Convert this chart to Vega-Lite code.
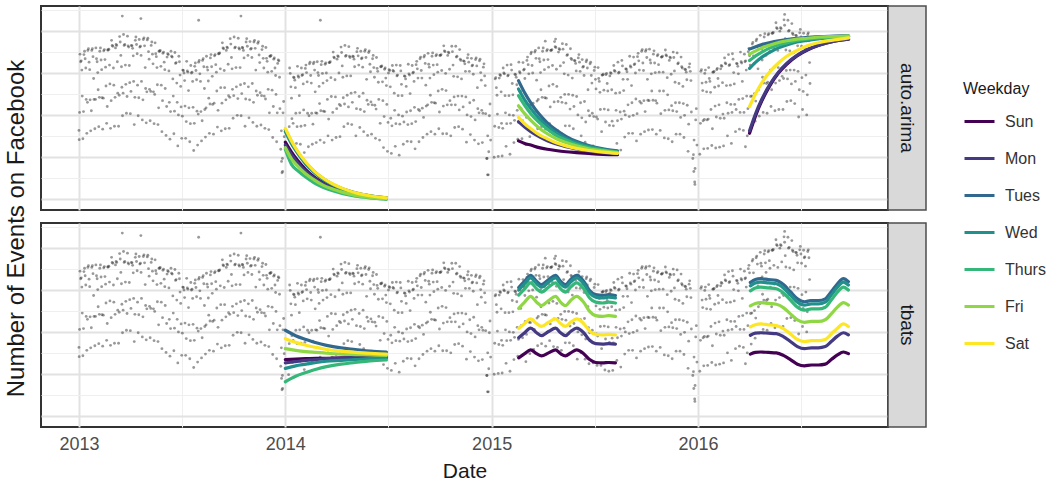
{
  "$schema": "https://vega.github.io/schema/vega-lite/v6.json",
  "background": "white",
  "padding": {"left": 4, "top": 5, "right": 0, "bottom": 0},
  "config": {
    "font": "Liberation Sans",
    "view": {"stroke": null},
    "axis": {"labelFont": "Liberation Sans", "titleFont": "Liberation Sans"}
  },
  "title": {"text": "Number of Events on Facebook", "orient": "left", "anchor": "middle", "fontSize": 24, "fontWeight": "normal", "color": "#1a1a1a", "offset": 11, "dx": 15},
  "bounds": "flush",
  "columns": 2,
  "spacing": {"row": 13, "column": 0},
  "resolve": {"scale": {"color": "shared"}, "legend": {"color": "shared"}},
  "datasets": {
    "obs": [
      {"t":2013.000,"v":163},{"t":2013.003,"v":206},{"t":2013.005,"v":345},{"t":2013.008,"v":327},{"t":2013.011,"v":329},{"t":2013.014,"v":307},{"t":2013.016,"v":245},
      {"t":2013.038,"v":156},{"t":2013.041,"v":230},{"t":2013.043,"v":354},{"t":2013.046,"v":358},{"t":2013.049,"v":326},{"t":2013.052,"v":308},{"t":2013.054,"v":236},
      {"t":2013.077,"v":167},{"t":2013.080,"v":237},{"t":2013.082,"v":360},{"t":2013.085,"v":334},{"t":2013.088,"v":327},{"t":2013.091,"v":301},{"t":2013.093,"v":260},
      {"t":2013.115,"v":166},{"t":2013.118,"v":240},{"t":2013.120,"v":353},{"t":2013.123,"v":356},{"t":2013.126,"v":332},{"t":2013.129,"v":314},{"t":2013.131,"v":269},
      {"t":2013.153,"v":168},{"t":2013.156,"v":234},{"t":2013.158,"v":378},{"t":2013.161,"v":366},{"t":2013.164,"v":364},{"t":2013.167,"v":312},{"t":2013.169,"v":271},
      {"t":2013.192,"v":173},{"t":2013.195,"v":247},{"t":2013.197,"v":387},{"t":2013.200,"v":374},{"t":2013.203,"v":342},{"t":2013.206,"v":315},{"t":2013.208,"v":266},
      {"t":2013.230,"v":204},{"t":2013.233,"v":244},{"t":2013.235,"v":388},{"t":2013.238,"v":365},{"t":2013.241,"v":362},{"t":2013.244,"v":318},{"t":2013.246,"v":277},
      {"t":2013.268,"v":177},{"t":2013.271,"v":242},{"t":2013.273,"v":378},{"t":2013.276,"v":386},{"t":2013.279,"v":368},{"t":2013.282,"v":346},{"t":2013.284,"v":271},
      {"t":2013.307,"v":188},{"t":2013.310,"v":236},{"t":2013.312,"v":380},{"t":2013.315,"v":384},{"t":2013.318,"v":365},{"t":2013.321,"v":313},{"t":2013.323,"v":263},
      {"t":2013.345,"v":186},{"t":2013.348,"v":256},{"t":2013.350,"v":366},{"t":2013.353,"v":374},{"t":2013.356,"v":345},{"t":2013.359,"v":322},{"t":2013.361,"v":255},
      {"t":2013.383,"v":177},{"t":2013.386,"v":217},{"t":2013.388,"v":352},{"t":2013.391,"v":352},{"t":2013.394,"v":354},{"t":2013.397,"v":316},{"t":2013.399,"v":271},
      {"t":2013.422,"v":151},{"t":2013.425,"v":220},{"t":2013.427,"v":338},{"t":2013.430,"v":346},{"t":2013.433,"v":344},{"t":2013.436,"v":305},{"t":2013.438,"v":230},
      {"t":2013.460,"v":155},{"t":2013.463,"v":209},{"t":2013.465,"v":349},{"t":2013.468,"v":323},{"t":2013.471,"v":325},{"t":2013.474,"v":276},{"t":2013.476,"v":230},
      {"t":2013.498,"v":144},{"t":2013.501,"v":197},{"t":2013.503,"v":307},{"t":2013.506,"v":306},{"t":2013.509,"v":300},{"t":2013.512,"v":282},{"t":2013.514,"v":221},
      {"t":2013.537,"v":136},{"t":2013.540,"v":179},{"t":2013.542,"v":318},{"t":2013.545,"v":300},{"t":2013.548,"v":302},{"t":2013.551,"v":280},{"t":2013.553,"v":218},
      {"t":2013.575,"v":128},{"t":2013.578,"v":202},{"t":2013.580,"v":326},{"t":2013.583,"v":330},{"t":2013.586,"v":298},{"t":2013.589,"v":280},{"t":2013.591,"v":208},
      {"t":2013.613,"v":147},{"t":2013.616,"v":217},{"t":2013.618,"v":340},{"t":2013.621,"v":314},{"t":2013.624,"v":307},{"t":2013.627,"v":281},{"t":2013.629,"v":240},
      {"t":2013.652,"v":154},{"t":2013.655,"v":228},{"t":2013.657,"v":341},{"t":2013.660,"v":344},{"t":2013.663,"v":320},{"t":2013.666,"v":302},{"t":2013.668,"v":257},
      {"t":2013.690,"v":162},{"t":2013.693,"v":228},{"t":2013.695,"v":372},{"t":2013.698,"v":360},{"t":2013.701,"v":358},{"t":2013.704,"v":306},{"t":2013.706,"v":265},
      {"t":2013.728,"v":168},{"t":2013.731,"v":242},{"t":2013.733,"v":382},{"t":2013.736,"v":369},{"t":2013.739,"v":337},{"t":2013.742,"v":310},{"t":2013.744,"v":261},
      {"t":2013.767,"v":199},{"t":2013.770,"v":239},{"t":2013.772,"v":383},{"t":2013.775,"v":360},{"t":2013.778,"v":357},{"t":2013.781,"v":313},{"t":2013.783,"v":272},
      {"t":2013.805,"v":173},{"t":2013.808,"v":238},{"t":2013.810,"v":374},{"t":2013.813,"v":382},{"t":2013.816,"v":364},{"t":2013.819,"v":342},{"t":2013.821,"v":267},
      {"t":2013.843,"v":182},{"t":2013.846,"v":230},{"t":2013.848,"v":374},{"t":2013.851,"v":378},{"t":2013.854,"v":359},{"t":2013.857,"v":307},{"t":2013.859,"v":257},
      {"t":2013.882,"v":176},{"t":2013.885,"v":246},{"t":2013.887,"v":356},{"t":2013.890,"v":364},{"t":2013.893,"v":335},{"t":2013.896,"v":312},{"t":2013.898,"v":245},
      {"t":2013.920,"v":165},{"t":2013.923,"v":205},{"t":2013.925,"v":340},{"t":2013.928,"v":340},{"t":2013.931,"v":342},{"t":2013.934,"v":304},{"t":2013.936,"v":259},
      {"t":2013.958,"v":136},{"t":2013.961,"v":205},{"t":2013.963,"v":323},{"t":2013.966,"v":331},{"t":2013.969,"v":329},{"t":2013.972,"v":290},{"t":2013.974,"v":215},
      {"t":2013.978,"v":118},{"t":2013.981,"v":162},{"t":2013.984,"v":62},{"t":2013.986,"v":96},{"t":2013.989,"v":205},{"t":2013.992,"v":232},{"t":2013.995,"v":148},
      {"t":2014.035,"v":127},{"t":2014.038,"v":180},{"t":2014.040,"v":290},{"t":2014.043,"v":289},{"t":2014.046,"v":283},{"t":2014.049,"v":265},{"t":2014.051,"v":204},
      {"t":2014.073,"v":130},{"t":2014.076,"v":173},{"t":2014.078,"v":312},{"t":2014.081,"v":294},{"t":2014.084,"v":296},{"t":2014.087,"v":274},{"t":2014.089,"v":212},
      {"t":2014.112,"v":124},{"t":2014.115,"v":198},{"t":2014.117,"v":322},{"t":2014.120,"v":326},{"t":2014.123,"v":294},{"t":2014.126,"v":276},{"t":2014.128,"v":204},
      {"t":2014.150,"v":134},{"t":2014.153,"v":204},{"t":2014.155,"v":327},{"t":2014.158,"v":301},{"t":2014.161,"v":294},{"t":2014.164,"v":268},{"t":2014.166,"v":227},
      {"t":2014.188,"v":134},{"t":2014.191,"v":208},{"t":2014.193,"v":321},{"t":2014.196,"v":324},{"t":2014.199,"v":300},{"t":2014.202,"v":282},{"t":2014.204,"v":237},
      {"t":2014.227,"v":140},{"t":2014.230,"v":206},{"t":2014.232,"v":350},{"t":2014.235,"v":338},{"t":2014.238,"v":336},{"t":2014.241,"v":284},{"t":2014.243,"v":243},
      {"t":2014.265,"v":148},{"t":2014.268,"v":222},{"t":2014.270,"v":362},{"t":2014.273,"v":349},{"t":2014.276,"v":317},{"t":2014.279,"v":290},{"t":2014.281,"v":241},
      {"t":2014.303,"v":179},{"t":2014.306,"v":219},{"t":2014.308,"v":363},{"t":2014.311,"v":340},{"t":2014.314,"v":337},{"t":2014.317,"v":293},{"t":2014.319,"v":252},
      {"t":2014.342,"v":150},{"t":2014.345,"v":215},{"t":2014.347,"v":351},{"t":2014.350,"v":359},{"t":2014.353,"v":341},{"t":2014.356,"v":319},{"t":2014.358,"v":244},
      {"t":2014.380,"v":160},{"t":2014.383,"v":208},{"t":2014.385,"v":352},{"t":2014.388,"v":356},{"t":2014.391,"v":337},{"t":2014.394,"v":285},{"t":2014.396,"v":235},
      {"t":2014.418,"v":154},{"t":2014.421,"v":224},{"t":2014.423,"v":334},{"t":2014.426,"v":342},{"t":2014.429,"v":313},{"t":2014.432,"v":290},{"t":2014.434,"v":223},
      {"t":2014.457,"v":140},{"t":2014.460,"v":180},{"t":2014.462,"v":315},{"t":2014.465,"v":315},{"t":2014.468,"v":317},{"t":2014.471,"v":279},{"t":2014.473,"v":234},
      {"t":2014.495,"v":113},{"t":2014.498,"v":182},{"t":2014.500,"v":300},{"t":2014.503,"v":308},{"t":2014.506,"v":306},{"t":2014.509,"v":267},{"t":2014.511,"v":192},
      {"t":2014.533,"v":125},{"t":2014.536,"v":179},{"t":2014.538,"v":319},{"t":2014.541,"v":293},{"t":2014.544,"v":295},{"t":2014.547,"v":246},{"t":2014.549,"v":200},
      {"t":2014.572,"v":130},{"t":2014.575,"v":183},{"t":2014.577,"v":293},{"t":2014.580,"v":292},{"t":2014.583,"v":286},{"t":2014.586,"v":268},{"t":2014.588,"v":207},
      {"t":2014.610,"v":136},{"t":2014.613,"v":179},{"t":2014.615,"v":318},{"t":2014.618,"v":300},{"t":2014.621,"v":302},{"t":2014.624,"v":280},{"t":2014.626,"v":218},
      {"t":2014.648,"v":136},{"t":2014.651,"v":210},{"t":2014.653,"v":334},{"t":2014.656,"v":338},{"t":2014.659,"v":306},{"t":2014.662,"v":288},{"t":2014.664,"v":216},
      {"t":2014.687,"v":154},{"t":2014.690,"v":224},{"t":2014.692,"v":347},{"t":2014.695,"v":321},{"t":2014.698,"v":314},{"t":2014.701,"v":288},{"t":2014.703,"v":247},
      {"t":2014.725,"v":154},{"t":2014.728,"v":228},{"t":2014.730,"v":341},{"t":2014.733,"v":344},{"t":2014.736,"v":320},{"t":2014.739,"v":302},{"t":2014.741,"v":257},
      {"t":2014.763,"v":155},{"t":2014.766,"v":221},{"t":2014.768,"v":365},{"t":2014.771,"v":353},{"t":2014.774,"v":351},{"t":2014.777,"v":299},{"t":2014.779,"v":258},
      {"t":2014.802,"v":150},{"t":2014.805,"v":224},{"t":2014.807,"v":364},{"t":2014.810,"v":351},{"t":2014.813,"v":319},{"t":2014.816,"v":292},{"t":2014.818,"v":243},
      {"t":2014.840,"v":172},{"t":2014.843,"v":212},{"t":2014.845,"v":356},{"t":2014.848,"v":333},{"t":2014.851,"v":330},{"t":2014.854,"v":286},{"t":2014.856,"v":245},
      {"t":2014.878,"v":135},{"t":2014.881,"v":200},{"t":2014.883,"v":336},{"t":2014.886,"v":344},{"t":2014.889,"v":326},{"t":2014.892,"v":304},{"t":2014.894,"v":229},
      {"t":2014.917,"v":140},{"t":2014.920,"v":188},{"t":2014.922,"v":332},{"t":2014.925,"v":336},{"t":2014.928,"v":317},{"t":2014.931,"v":265},{"t":2014.933,"v":215},
      {"t":2014.955,"v":134},{"t":2014.958,"v":204},{"t":2014.960,"v":314},{"t":2014.963,"v":322},{"t":2014.966,"v":293},{"t":2014.969,"v":270},{"t":2014.971,"v":203},
      {"t":2014.978,"v":96},{"t":2014.981,"v":150},{"t":2014.984,"v":57},{"t":2014.986,"v":112},{"t":2014.989,"v":198},{"t":2014.992,"v":226},{"t":2014.995,"v":140},
      {"t":2015.032,"v":101},{"t":2015.035,"v":170},{"t":2015.037,"v":288},{"t":2015.040,"v":296},{"t":2015.043,"v":294},{"t":2015.046,"v":255},{"t":2015.048,"v":180},
      {"t":2015.070,"v":125},{"t":2015.073,"v":179},{"t":2015.075,"v":319},{"t":2015.078,"v":293},{"t":2015.081,"v":295},{"t":2015.084,"v":246},{"t":2015.086,"v":200},
      {"t":2015.108,"v":134},{"t":2015.111,"v":187},{"t":2015.113,"v":297},{"t":2015.116,"v":296},{"t":2015.119,"v":290},{"t":2015.122,"v":272},{"t":2015.124,"v":211},
      {"t":2015.147,"v":143},{"t":2015.150,"v":186},{"t":2015.152,"v":325},{"t":2015.155,"v":307},{"t":2015.158,"v":309},{"t":2015.161,"v":287},{"t":2015.163,"v":225},
      {"t":2015.185,"v":148},{"t":2015.188,"v":222},{"t":2015.190,"v":346},{"t":2015.193,"v":350},{"t":2015.196,"v":318},{"t":2015.199,"v":300},{"t":2015.201,"v":228},
      {"t":2015.223,"v":167},{"t":2015.226,"v":237},{"t":2015.228,"v":360},{"t":2015.231,"v":334},{"t":2015.234,"v":327},{"t":2015.237,"v":301},{"t":2015.239,"v":260},
      {"t":2015.262,"v":166},{"t":2015.265,"v":240},{"t":2015.267,"v":353},{"t":2015.270,"v":356},{"t":2015.273,"v":332},{"t":2015.276,"v":314},{"t":2015.278,"v":269},
      {"t":2015.300,"v":165},{"t":2015.303,"v":231},{"t":2015.305,"v":375},{"t":2015.308,"v":363},{"t":2015.311,"v":361},{"t":2015.314,"v":309},{"t":2015.316,"v":268},
      {"t":2015.338,"v":156},{"t":2015.341,"v":230},{"t":2015.343,"v":370},{"t":2015.346,"v":357},{"t":2015.349,"v":325},{"t":2015.352,"v":298},{"t":2015.354,"v":249},
      {"t":2015.377,"v":174},{"t":2015.380,"v":214},{"t":2015.382,"v":358},{"t":2015.385,"v":335},{"t":2015.388,"v":332},{"t":2015.391,"v":288},{"t":2015.393,"v":247},
      {"t":2015.415,"v":135},{"t":2015.418,"v":200},{"t":2015.420,"v":336},{"t":2015.423,"v":344},{"t":2015.426,"v":326},{"t":2015.429,"v":304},{"t":2015.431,"v":229},
      {"t":2015.453,"v":135},{"t":2015.456,"v":183},{"t":2015.458,"v":327},{"t":2015.461,"v":331},{"t":2015.464,"v":312},{"t":2015.467,"v":260},{"t":2015.469,"v":210},
      {"t":2015.492,"v":126},{"t":2015.495,"v":196},{"t":2015.497,"v":306},{"t":2015.500,"v":314},{"t":2015.503,"v":285},{"t":2015.506,"v":262},{"t":2015.508,"v":195},
      {"t":2015.530,"v":120},{"t":2015.533,"v":160},{"t":2015.535,"v":295},{"t":2015.538,"v":295},{"t":2015.541,"v":297},{"t":2015.544,"v":259},{"t":2015.546,"v":214},
      {"t":2015.568,"v":106},{"t":2015.571,"v":175},{"t":2015.573,"v":293},{"t":2015.576,"v":301},{"t":2015.579,"v":299},{"t":2015.582,"v":260},{"t":2015.584,"v":185},
      {"t":2015.607,"v":132},{"t":2015.610,"v":186},{"t":2015.612,"v":326},{"t":2015.615,"v":300},{"t":2015.618,"v":302},{"t":2015.621,"v":253},{"t":2015.623,"v":207},
      {"t":2015.645,"v":147},{"t":2015.648,"v":200},{"t":2015.650,"v":310},{"t":2015.653,"v":309},{"t":2015.656,"v":303},{"t":2015.659,"v":285},{"t":2015.661,"v":224},
      {"t":2015.683,"v":156},{"t":2015.686,"v":199},{"t":2015.688,"v":338},{"t":2015.691,"v":320},{"t":2015.694,"v":322},{"t":2015.697,"v":300},{"t":2015.699,"v":238},
      {"t":2015.722,"v":154},{"t":2015.725,"v":228},{"t":2015.727,"v":352},{"t":2015.730,"v":356},{"t":2015.733,"v":324},{"t":2015.736,"v":306},{"t":2015.738,"v":234},
      {"t":2015.760,"v":164},{"t":2015.763,"v":234},{"t":2015.765,"v":357},{"t":2015.768,"v":331},{"t":2015.771,"v":324},{"t":2015.774,"v":298},{"t":2015.776,"v":257},
      {"t":2015.798,"v":154},{"t":2015.801,"v":228},{"t":2015.803,"v":341},{"t":2015.806,"v":344},{"t":2015.809,"v":320},{"t":2015.812,"v":302},{"t":2015.814,"v":257},
      {"t":2015.837,"v":145},{"t":2015.840,"v":211},{"t":2015.842,"v":355},{"t":2015.845,"v":343},{"t":2015.848,"v":341},{"t":2015.851,"v":289},{"t":2015.853,"v":248},
      {"t":2015.875,"v":136},{"t":2015.878,"v":210},{"t":2015.880,"v":350},{"t":2015.883,"v":337},{"t":2015.886,"v":305},{"t":2015.889,"v":278},{"t":2015.891,"v":229},
      {"t":2015.913,"v":154},{"t":2015.916,"v":194},{"t":2015.918,"v":338},{"t":2015.921,"v":315},{"t":2015.924,"v":312},{"t":2015.927,"v":268},{"t":2015.929,"v":227},
      {"t":2015.952,"v":113},{"t":2015.955,"v":178},{"t":2015.957,"v":314},{"t":2015.960,"v":322},{"t":2015.963,"v":304},{"t":2015.966,"v":282},{"t":2015.968,"v":207},
      {"t":2015.978,"v":105},{"t":2015.981,"v":140},{"t":2015.984,"v":40},{"t":2015.986,"v":72},{"t":2015.989,"v":188},{"t":2015.992,"v":215},{"t":2015.995,"v":128},
      {"t":2016.028,"v":119},{"t":2016.031,"v":189},{"t":2016.033,"v":299},{"t":2016.036,"v":307},{"t":2016.039,"v":278},{"t":2016.042,"v":255},{"t":2016.044,"v":188},
      {"t":2016.067,"v":127},{"t":2016.070,"v":167},{"t":2016.072,"v":302},{"t":2016.075,"v":302},{"t":2016.078,"v":304},{"t":2016.081,"v":266},{"t":2016.083,"v":221},
      {"t":2016.105,"v":123},{"t":2016.108,"v":192},{"t":2016.110,"v":310},{"t":2016.113,"v":318},{"t":2016.116,"v":316},{"t":2016.119,"v":277},{"t":2016.121,"v":202},
      {"t":2016.143,"v":150},{"t":2016.146,"v":204},{"t":2016.148,"v":344},{"t":2016.151,"v":318},{"t":2016.154,"v":320},{"t":2016.157,"v":271},{"t":2016.159,"v":225},
      {"t":2016.182,"v":160},{"t":2016.185,"v":213},{"t":2016.187,"v":323},{"t":2016.190,"v":322},{"t":2016.193,"v":316},{"t":2016.196,"v":298},{"t":2016.198,"v":237},
      {"t":2016.220,"v":163},{"t":2016.223,"v":206},{"t":2016.225,"v":345},{"t":2016.228,"v":327},{"t":2016.231,"v":329},{"t":2016.234,"v":307},{"t":2016.236,"v":245},
      {"t":2016.258,"v":171},{"t":2016.261,"v":245},{"t":2016.263,"v":369},{"t":2016.266,"v":373},{"t":2016.269,"v":341},{"t":2016.272,"v":323},{"t":2016.274,"v":251},
      {"t":2016.297,"v":197},{"t":2016.300,"v":267},{"t":2016.302,"v":390},{"t":2016.305,"v":364},{"t":2016.308,"v":357},{"t":2016.311,"v":331},{"t":2016.313,"v":290},
      {"t":2016.335,"v":204},{"t":2016.338,"v":278},{"t":2016.340,"v":391},{"t":2016.343,"v":394},{"t":2016.346,"v":370},{"t":2016.349,"v":352},{"t":2016.351,"v":307},
      {"t":2016.373,"v":210},{"t":2016.376,"v":276},{"t":2016.378,"v":420},{"t":2016.381,"v":408},{"t":2016.384,"v":406},{"t":2016.387,"v":354},{"t":2016.389,"v":313},
      {"t":2016.412,"v":213},{"t":2016.415,"v":287},{"t":2016.417,"v":427},{"t":2016.420,"v":414},{"t":2016.423,"v":382},{"t":2016.426,"v":355},{"t":2016.428,"v":306},
      {"t":2016.450,"v":234},{"t":2016.453,"v":274},{"t":2016.455,"v":418},{"t":2016.458,"v":395},{"t":2016.461,"v":392},{"t":2016.464,"v":348},{"t":2016.466,"v":307},
      {"t":2016.488,"v":195},{"t":2016.491,"v":260},{"t":2016.493,"v":396},{"t":2016.496,"v":404},{"t":2016.499,"v":386},{"t":2016.502,"v":364},{"t":2016.504,"v":289},
      {"t":2016.527,"v":200},{"t":2016.530,"v":248},{"t":2016.532,"v":392},{"t":2016.535,"v":396},{"t":2016.538,"v":377},{"t":2016.541,"v":325},{"t":2016.543,"v":275},
      {"t":2013.019,"v":143},{"t":2013.022,"v":208},{"t":2013.024,"v":344},{"t":2013.027,"v":352},{"t":2013.030,"v":334},{"t":2013.033,"v":312},{"t":2013.035,"v":237},
      {"t":2013.057,"v":162},{"t":2013.060,"v":210},{"t":2013.062,"v":354},{"t":2013.065,"v":358},{"t":2013.068,"v":339},{"t":2013.071,"v":287},{"t":2013.073,"v":237},
      {"t":2013.096,"v":172},{"t":2013.099,"v":242},{"t":2013.101,"v":352},{"t":2013.104,"v":360},{"t":2013.107,"v":331},{"t":2013.110,"v":308},{"t":2013.112,"v":241},
      {"t":2013.134,"v":180},{"t":2013.137,"v":220},{"t":2013.139,"v":355},{"t":2013.142,"v":355},{"t":2013.145,"v":357},{"t":2013.148,"v":319},{"t":2013.150,"v":274},
      {"t":2013.172,"v":173},{"t":2013.175,"v":242},{"t":2013.177,"v":360},{"t":2013.180,"v":368},{"t":2013.183,"v":366},{"t":2013.186,"v":327},{"t":2013.188,"v":252},
      {"t":2013.211,"v":198},{"t":2013.214,"v":252},{"t":2013.216,"v":392},{"t":2013.219,"v":366},{"t":2013.222,"v":368},{"t":2013.225,"v":319},{"t":2013.227,"v":273},
      {"t":2013.249,"v":203},{"t":2013.252,"v":256},{"t":2013.254,"v":366},{"t":2013.257,"v":365},{"t":2013.260,"v":359},{"t":2013.263,"v":341},{"t":2013.265,"v":280},
      {"t":2013.287,"v":198},{"t":2013.290,"v":241},{"t":2013.292,"v":380},{"t":2013.295,"v":362},{"t":2013.298,"v":364},{"t":2013.301,"v":342},{"t":2013.303,"v":280},
      {"t":2013.326,"v":181},{"t":2013.329,"v":255},{"t":2013.331,"v":379},{"t":2013.334,"v":383},{"t":2013.337,"v":351},{"t":2013.340,"v":333},{"t":2013.342,"v":261},
      {"t":2013.364,"v":179},{"t":2013.367,"v":249},{"t":2013.369,"v":372},{"t":2013.372,"v":346},{"t":2013.375,"v":339},{"t":2013.378,"v":313},{"t":2013.380,"v":272},
      {"t":2013.402,"v":160},{"t":2013.405,"v":234},{"t":2013.407,"v":347},{"t":2013.410,"v":350},{"t":2013.413,"v":326},{"t":2013.416,"v":308},{"t":2013.418,"v":263},
      {"t":2013.441,"v":142},{"t":2013.444,"v":208},{"t":2013.446,"v":352},{"t":2013.449,"v":340},{"t":2013.452,"v":338},{"t":2013.455,"v":286},{"t":2013.457,"v":245},
      {"t":2013.479,"v":126},{"t":2013.482,"v":200},{"t":2013.484,"v":340},{"t":2013.487,"v":327},{"t":2013.490,"v":295},{"t":2013.493,"v":268},{"t":2013.495,"v":219},
      {"t":2013.517,"v":144},{"t":2013.520,"v":184},{"t":2013.522,"v":328},{"t":2013.525,"v":305},{"t":2013.528,"v":302},{"t":2013.531,"v":258},{"t":2013.533,"v":217},
      {"t":2013.556,"v":115},{"t":2013.559,"v":180},{"t":2013.561,"v":316},{"t":2013.564,"v":324},{"t":2013.567,"v":306},{"t":2013.570,"v":284},{"t":2013.572,"v":209},
      {"t":2013.594,"v":138},{"t":2013.597,"v":186},{"t":2013.599,"v":330},{"t":2013.602,"v":334},{"t":2013.605,"v":315},{"t":2013.608,"v":263},{"t":2013.610,"v":213},
      {"t":2013.632,"v":156},{"t":2013.635,"v":226},{"t":2013.637,"v":336},{"t":2013.640,"v":344},{"t":2013.643,"v":315},{"t":2013.646,"v":292},{"t":2013.648,"v":225},
      {"t":2013.671,"v":171},{"t":2013.674,"v":211},{"t":2013.676,"v":346},{"t":2013.679,"v":346},{"t":2013.682,"v":348},{"t":2013.685,"v":310},{"t":2013.687,"v":265},
      {"t":2013.709,"v":167},{"t":2013.712,"v":236},{"t":2013.714,"v":354},{"t":2013.717,"v":362},{"t":2013.720,"v":360},{"t":2013.723,"v":321},{"t":2013.725,"v":246},
      {"t":2013.747,"v":192},{"t":2013.750,"v":246},{"t":2013.752,"v":386},{"t":2013.755,"v":360},{"t":2013.758,"v":362},{"t":2013.761,"v":313},{"t":2013.763,"v":267},
      {"t":2013.786,"v":198},{"t":2013.789,"v":251},{"t":2013.791,"v":361},{"t":2013.794,"v":360},{"t":2013.797,"v":354},{"t":2013.800,"v":336},{"t":2013.802,"v":275},
      {"t":2013.824,"v":193},{"t":2013.827,"v":236},{"t":2013.829,"v":375},{"t":2013.832,"v":357},{"t":2013.835,"v":359},{"t":2013.838,"v":337},{"t":2013.840,"v":275},
      {"t":2013.862,"v":173},{"t":2013.865,"v":247},{"t":2013.867,"v":371},{"t":2013.870,"v":375},{"t":2013.873,"v":343},{"t":2013.876,"v":325},{"t":2013.878,"v":253},
      {"t":2013.901,"v":168},{"t":2013.904,"v":238},{"t":2013.906,"v":361},{"t":2013.909,"v":335},{"t":2013.912,"v":328},{"t":2013.915,"v":302},{"t":2013.917,"v":261},
      {"t":2013.939,"v":146},{"t":2013.942,"v":220},{"t":2013.944,"v":333},{"t":2013.947,"v":336},{"t":2013.950,"v":312},{"t":2013.953,"v":294},{"t":2013.955,"v":249},
      {"t":2014.016,"v":98},{"t":2014.019,"v":172},{"t":2014.021,"v":312},{"t":2014.024,"v":299},{"t":2014.027,"v":267},{"t":2014.030,"v":240},{"t":2014.032,"v":191},
      {"t":2014.054,"v":132},{"t":2014.057,"v":172},{"t":2014.059,"v":316},{"t":2014.062,"v":293},{"t":2014.065,"v":290},{"t":2014.068,"v":246},{"t":2014.070,"v":205},
      {"t":2014.092,"v":110},{"t":2014.095,"v":175},{"t":2014.097,"v":311},{"t":2014.100,"v":319},{"t":2014.103,"v":301},{"t":2014.106,"v":279},{"t":2014.108,"v":204},
      {"t":2014.131,"v":130},{"t":2014.134,"v":178},{"t":2014.136,"v":322},{"t":2014.139,"v":326},{"t":2014.142,"v":307},{"t":2014.145,"v":255},{"t":2014.147,"v":205},
      {"t":2014.169,"v":140},{"t":2014.172,"v":210},{"t":2014.174,"v":320},{"t":2014.177,"v":328},{"t":2014.180,"v":299},{"t":2014.183,"v":276},{"t":2014.185,"v":209},
      {"t":2014.207,"v":150},{"t":2014.210,"v":190},{"t":2014.212,"v":325},{"t":2014.215,"v":325},{"t":2014.218,"v":327},{"t":2014.221,"v":289},{"t":2014.223,"v":244},
      {"t":2014.246,"v":146},{"t":2014.249,"v":215},{"t":2014.251,"v":333},{"t":2014.254,"v":341},{"t":2014.257,"v":339},{"t":2014.260,"v":300},{"t":2014.262,"v":225},
      {"t":2014.284,"v":172},{"t":2014.287,"v":226},{"t":2014.289,"v":366},{"t":2014.292,"v":340},{"t":2014.295,"v":342},{"t":2014.298,"v":293},{"t":2014.300,"v":247},
      {"t":2014.322,"v":177},{"t":2014.325,"v":230},{"t":2014.327,"v":340},{"t":2014.330,"v":339},{"t":2014.333,"v":333},{"t":2014.336,"v":315},{"t":2014.338,"v":254},
      {"t":2014.361,"v":170},{"t":2014.364,"v":213},{"t":2014.366,"v":352},{"t":2014.369,"v":334},{"t":2014.372,"v":336},{"t":2014.375,"v":314},{"t":2014.377,"v":252},
      {"t":2014.399,"v":151},{"t":2014.402,"v":225},{"t":2014.404,"v":349},{"t":2014.407,"v":353},{"t":2014.410,"v":321},{"t":2014.413,"v":303},{"t":2014.415,"v":231},
      {"t":2014.437,"v":144},{"t":2014.440,"v":214},{"t":2014.442,"v":337},{"t":2014.445,"v":311},{"t":2014.448,"v":304},{"t":2014.451,"v":278},{"t":2014.453,"v":237},
      {"t":2014.476,"v":122},{"t":2014.479,"v":196},{"t":2014.481,"v":309},{"t":2014.484,"v":312},{"t":2014.487,"v":288},{"t":2014.490,"v":270},{"t":2014.492,"v":225},
      {"t":2014.514,"v":108},{"t":2014.517,"v":174},{"t":2014.519,"v":318},{"t":2014.522,"v":306},{"t":2014.525,"v":304},{"t":2014.528,"v":252},{"t":2014.530,"v":211},
      {"t":2014.552,"v":104},{"t":2014.555,"v":178},{"t":2014.557,"v":318},{"t":2014.560,"v":305},{"t":2014.563,"v":273},{"t":2014.566,"v":246},{"t":2014.568,"v":197},
      {"t":2014.591,"v":137},{"t":2014.594,"v":177},{"t":2014.596,"v":321},{"t":2014.599,"v":298},{"t":2014.602,"v":295},{"t":2014.605,"v":251},{"t":2014.607,"v":210},
      {"t":2014.629,"v":119},{"t":2014.632,"v":184},{"t":2014.634,"v":320},{"t":2014.637,"v":328},{"t":2014.640,"v":310},{"t":2014.643,"v":288},{"t":2014.645,"v":213},
      {"t":2014.667,"v":146},{"t":2014.670,"v":194},{"t":2014.672,"v":338},{"t":2014.675,"v":342},{"t":2014.678,"v":323},{"t":2014.681,"v":271},{"t":2014.683,"v":221},
      {"t":2014.706,"v":160},{"t":2014.709,"v":230},{"t":2014.711,"v":340},{"t":2014.714,"v":348},{"t":2014.717,"v":319},{"t":2014.720,"v":296},{"t":2014.722,"v":229},
      {"t":2014.744,"v":167},{"t":2014.747,"v":207},{"t":2014.749,"v":342},{"t":2014.752,"v":342},{"t":2014.755,"v":344},{"t":2014.758,"v":306},{"t":2014.760,"v":261},
      {"t":2014.782,"v":155},{"t":2014.785,"v":224},{"t":2014.787,"v":342},{"t":2014.790,"v":350},{"t":2014.793,"v":348},{"t":2014.796,"v":309},{"t":2014.798,"v":234},
      {"t":2014.821,"v":170},{"t":2014.824,"v":224},{"t":2014.826,"v":364},{"t":2014.829,"v":338},{"t":2014.832,"v":340},{"t":2014.835,"v":291},{"t":2014.837,"v":245},
      {"t":2014.859,"v":166},{"t":2014.862,"v":219},{"t":2014.864,"v":329},{"t":2014.867,"v":328},{"t":2014.870,"v":322},{"t":2014.873,"v":304},{"t":2014.875,"v":243},
      {"t":2014.897,"v":153},{"t":2014.900,"v":196},{"t":2014.902,"v":335},{"t":2014.905,"v":317},{"t":2014.908,"v":319},{"t":2014.911,"v":297},{"t":2014.913,"v":235},
      {"t":2014.936,"v":131},{"t":2014.939,"v":205},{"t":2014.941,"v":329},{"t":2014.944,"v":333},{"t":2014.947,"v":301},{"t":2014.950,"v":283},{"t":2014.952,"v":211},
      {"t":2015.012,"v":99},{"t":2015.015,"v":173},{"t":2015.017,"v":286},{"t":2015.020,"v":289},{"t":2015.023,"v":265},{"t":2015.026,"v":247},{"t":2015.028,"v":202},
      {"t":2015.051,"v":102},{"t":2015.054,"v":168},{"t":2015.056,"v":312},{"t":2015.059,"v":300},{"t":2015.062,"v":298},{"t":2015.065,"v":246},{"t":2015.067,"v":205},
      {"t":2015.089,"v":106},{"t":2015.092,"v":180},{"t":2015.094,"v":320},{"t":2015.097,"v":307},{"t":2015.100,"v":275},{"t":2015.103,"v":248},{"t":2015.105,"v":199},
      {"t":2015.127,"v":142},{"t":2015.130,"v":182},{"t":2015.132,"v":326},{"t":2015.135,"v":303},{"t":2015.138,"v":300},{"t":2015.141,"v":256},{"t":2015.143,"v":215},
      {"t":2015.166,"v":129},{"t":2015.169,"v":194},{"t":2015.171,"v":330},{"t":2015.174,"v":338},{"t":2015.177,"v":320},{"t":2015.180,"v":298},{"t":2015.182,"v":223},
      {"t":2015.204,"v":158},{"t":2015.207,"v":206},{"t":2015.209,"v":350},{"t":2015.212,"v":354},{"t":2015.215,"v":335},{"t":2015.218,"v":283},{"t":2015.220,"v":233},
      {"t":2015.242,"v":172},{"t":2015.245,"v":242},{"t":2015.247,"v":352},{"t":2015.250,"v":360},{"t":2015.253,"v":331},{"t":2015.256,"v":308},{"t":2015.258,"v":241},
      {"t":2015.281,"v":179},{"t":2015.284,"v":219},{"t":2015.286,"v":354},{"t":2015.289,"v":354},{"t":2015.292,"v":356},{"t":2015.295,"v":318},{"t":2015.297,"v":273},
      {"t":2015.319,"v":163},{"t":2015.322,"v":232},{"t":2015.324,"v":350},{"t":2015.327,"v":358},{"t":2015.330,"v":356},{"t":2015.333,"v":317},{"t":2015.335,"v":242},
      {"t":2015.357,"v":174},{"t":2015.360,"v":228},{"t":2015.362,"v":368},{"t":2015.365,"v":342},{"t":2015.368,"v":344},{"t":2015.371,"v":295},{"t":2015.373,"v":249},
      {"t":2015.396,"v":167},{"t":2015.399,"v":220},{"t":2015.401,"v":330},{"t":2015.404,"v":329},{"t":2015.407,"v":323},{"t":2015.410,"v":305},{"t":2015.412,"v":244},
      {"t":2015.434,"v":150},{"t":2015.437,"v":193},{"t":2015.439,"v":332},{"t":2015.442,"v":314},{"t":2015.445,"v":316},{"t":2015.448,"v":294},{"t":2015.450,"v":232},
      {"t":2015.472,"v":124},{"t":2015.475,"v":198},{"t":2015.477,"v":322},{"t":2015.480,"v":326},{"t":2015.483,"v":294},{"t":2015.486,"v":276},{"t":2015.488,"v":204},
      {"t":2015.511,"v":120},{"t":2015.514,"v":190},{"t":2015.516,"v":313},{"t":2015.519,"v":287},{"t":2015.522,"v":280},{"t":2015.525,"v":254},{"t":2015.527,"v":213},
      {"t":2015.549,"v":109},{"t":2015.552,"v":183},{"t":2015.554,"v":296},{"t":2015.557,"v":299},{"t":2015.560,"v":275},{"t":2015.563,"v":257},{"t":2015.565,"v":212},
      {"t":2015.587,"v":108},{"t":2015.590,"v":174},{"t":2015.592,"v":318},{"t":2015.595,"v":306},{"t":2015.598,"v":304},{"t":2015.601,"v":252},{"t":2015.603,"v":211},
      {"t":2015.626,"v":116},{"t":2015.629,"v":190},{"t":2015.631,"v":330},{"t":2015.634,"v":317},{"t":2015.637,"v":285},{"t":2015.640,"v":258},{"t":2015.642,"v":209},
      {"t":2015.664,"v":156},{"t":2015.667,"v":196},{"t":2015.669,"v":340},{"t":2015.672,"v":317},{"t":2015.675,"v":314},{"t":2015.678,"v":270},{"t":2015.680,"v":229},
      {"t":2015.702,"v":138},{"t":2015.705,"v":203},{"t":2015.707,"v":339},{"t":2015.710,"v":347},{"t":2015.713,"v":329},{"t":2015.716,"v":307},{"t":2015.718,"v":232},
      {"t":2015.741,"v":160},{"t":2015.744,"v":208},{"t":2015.746,"v":352},{"t":2015.749,"v":356},{"t":2015.752,"v":337},{"t":2015.755,"v":285},{"t":2015.757,"v":235},
      {"t":2015.779,"v":165},{"t":2015.782,"v":235},{"t":2015.784,"v":345},{"t":2015.787,"v":353},{"t":2015.790,"v":324},{"t":2015.793,"v":301},{"t":2015.795,"v":234},
      {"t":2015.817,"v":163},{"t":2015.820,"v":203},{"t":2015.822,"v":338},{"t":2015.825,"v":338},{"t":2015.828,"v":340},{"t":2015.831,"v":302},{"t":2015.833,"v":257},
      {"t":2015.856,"v":143},{"t":2015.859,"v":212},{"t":2015.861,"v":330},{"t":2015.864,"v":338},{"t":2015.867,"v":336},{"t":2015.870,"v":297},{"t":2015.872,"v":222},
      {"t":2015.894,"v":154},{"t":2015.897,"v":208},{"t":2015.899,"v":348},{"t":2015.902,"v":322},{"t":2015.905,"v":324},{"t":2015.908,"v":275},{"t":2015.910,"v":229},
      {"t":2015.932,"v":146},{"t":2015.935,"v":199},{"t":2015.937,"v":309},{"t":2015.940,"v":308},{"t":2015.943,"v":302},{"t":2015.946,"v":284},{"t":2015.948,"v":223},
      {"t":2016.009,"v":106},{"t":2016.012,"v":180},{"t":2016.014,"v":304},{"t":2016.017,"v":308},{"t":2016.020,"v":276},{"t":2016.023,"v":258},{"t":2016.025,"v":186},
      {"t":2016.047,"v":120},{"t":2016.050,"v":190},{"t":2016.052,"v":313},{"t":2016.055,"v":287},{"t":2016.058,"v":280},{"t":2016.061,"v":254},{"t":2016.063,"v":213},
      {"t":2016.086,"v":121},{"t":2016.089,"v":195},{"t":2016.091,"v":308},{"t":2016.094,"v":311},{"t":2016.097,"v":287},{"t":2016.100,"v":269},{"t":2016.102,"v":224},
      {"t":2016.124,"v":126},{"t":2016.127,"v":192},{"t":2016.129,"v":336},{"t":2016.132,"v":324},{"t":2016.135,"v":322},{"t":2016.138,"v":270},{"t":2016.140,"v":229},
      {"t":2016.162,"v":132},{"t":2016.165,"v":206},{"t":2016.167,"v":346},{"t":2016.170,"v":333},{"t":2016.173,"v":301},{"t":2016.176,"v":274},{"t":2016.178,"v":225},
      {"t":2016.201,"v":166},{"t":2016.204,"v":206},{"t":2016.206,"v":350},{"t":2016.209,"v":327},{"t":2016.212,"v":324},{"t":2016.215,"v":280},{"t":2016.217,"v":239},
      {"t":2016.239,"v":150},{"t":2016.242,"v":215},{"t":2016.244,"v":351},{"t":2016.247,"v":359},{"t":2016.250,"v":341},{"t":2016.253,"v":319},{"t":2016.255,"v":244},
      {"t":2016.277,"v":185},{"t":2016.280,"v":233},{"t":2016.282,"v":377},{"t":2016.285,"v":381},{"t":2016.288,"v":362},{"t":2016.291,"v":310},{"t":2016.293,"v":260},
      {"t":2016.316,"v":206},{"t":2016.319,"v":276},{"t":2016.321,"v":386},{"t":2016.324,"v":394},{"t":2016.327,"v":365},{"t":2016.330,"v":342},{"t":2016.332,"v":275},
      {"t":2016.354,"v":220},{"t":2016.357,"v":260},{"t":2016.359,"v":395},{"t":2016.362,"v":395},{"t":2016.365,"v":397},{"t":2016.368,"v":359},{"t":2016.370,"v":314},
      {"t":2016.392,"v":213},{"t":2016.395,"v":282},{"t":2016.397,"v":400},{"t":2016.400,"v":408},{"t":2016.403,"v":406},{"t":2016.406,"v":367},{"t":2016.408,"v":292},
      {"t":2016.431,"v":232},{"t":2016.434,"v":286},{"t":2016.436,"v":426},{"t":2016.439,"v":400},{"t":2016.442,"v":402},{"t":2016.445,"v":353},{"t":2016.447,"v":307},
      {"t":2016.469,"v":227},{"t":2016.472,"v":280},{"t":2016.474,"v":390},{"t":2016.477,"v":389},{"t":2016.480,"v":383},{"t":2016.483,"v":365},{"t":2016.485,"v":304},
      {"t":2016.507,"v":213},{"t":2016.510,"v":256},{"t":2016.512,"v":395},{"t":2016.515,"v":377},{"t":2016.518,"v":379},{"t":2016.521,"v":357},{"t":2016.523,"v":295},
      {"t":2013.21,"v":436},{"t":2013.30,"v":430},{"t":2013.58,"v":426},{"t":2013.785,"v":436},{"t":2014.17,"v":426},{"t":2015.26,"v":376},{"t":2015.31,"v":381},{"t":2016.42,"v":440},
      {"t":2013.001,"v":141},{"t":2013.982,"v":89},{"t":2013.987,"v":65},{"t":2014.976,"v":96},{"t":2014.98,"v":57},{"t":2015.975,"v":96},{"t":2015.98,"v":65},{"t":2015.985,"v":34},{"t":2016.23,"v":124}
    ],
    "fc": [
      {"m":"auto.arima","w":"Sun","p":2014,"t":2014.0,"v":135},{"m":"auto.arima","w":"Sun","p":2014,"t":2014.03,"v":111},{"m":"auto.arima","w":"Sun","p":2014,"t":2014.06,"v":91},{"m":"auto.arima","w":"Sun","p":2014,"t":2014.1,"v":69},{"m":"auto.arima","w":"Sun","p":2014,"t":2014.14,"v":52},{"m":"auto.arima","w":"Sun","p":2014,"t":2014.18,"v":39},{"m":"auto.arima","w":"Sun","p":2014,"t":2014.23,"v":27},{"m":"auto.arima","w":"Sun","p":2014,"t":2014.28,"v":18},{"m":"auto.arima","w":"Sun","p":2014,"t":2014.34,"v":10},{"m":"auto.arima","w":"Sun","p":2014,"t":2014.41,"v":5},{"m":"auto.arima","w":"Sun","p":2014,"t":2014.49,"v":0},
      {"m":"auto.arima","w":"Mon","p":2014,"t":2014.0,"v":128},{"m":"auto.arima","w":"Mon","p":2014,"t":2014.03,"v":105},{"m":"auto.arima","w":"Mon","p":2014,"t":2014.06,"v":86},{"m":"auto.arima","w":"Mon","p":2014,"t":2014.1,"v":65},{"m":"auto.arima","w":"Mon","p":2014,"t":2014.14,"v":49},{"m":"auto.arima","w":"Mon","p":2014,"t":2014.18,"v":37},{"m":"auto.arima","w":"Mon","p":2014,"t":2014.23,"v":25},{"m":"auto.arima","w":"Mon","p":2014,"t":2014.28,"v":17},{"m":"auto.arima","w":"Mon","p":2014,"t":2014.34,"v":10},{"m":"auto.arima","w":"Mon","p":2014,"t":2014.41,"v":4},{"m":"auto.arima","w":"Mon","p":2014,"t":2014.49,"v":0},
      {"m":"auto.arima","w":"Tues","p":2014,"t":2014.0,"v":165},{"m":"auto.arima","w":"Tues","p":2014,"t":2014.03,"v":136},{"m":"auto.arima","w":"Tues","p":2014,"t":2014.06,"v":111},{"m":"auto.arima","w":"Tues","p":2014,"t":2014.1,"v":85},{"m":"auto.arima","w":"Tues","p":2014,"t":2014.14,"v":65},{"m":"auto.arima","w":"Tues","p":2014,"t":2014.18,"v":49},{"m":"auto.arima","w":"Tues","p":2014,"t":2014.23,"v":34},{"m":"auto.arima","w":"Tues","p":2014,"t":2014.28,"v":23},{"m":"auto.arima","w":"Tues","p":2014,"t":2014.34,"v":14},{"m":"auto.arima","w":"Tues","p":2014,"t":2014.41,"v":7},{"m":"auto.arima","w":"Tues","p":2014,"t":2014.49,"v":2},
      {"m":"auto.arima","w":"Wed","p":2014,"t":2014.0,"v":160},{"m":"auto.arima","w":"Wed","p":2014,"t":2014.03,"v":131},{"m":"auto.arima","w":"Wed","p":2014,"t":2014.06,"v":108},{"m":"auto.arima","w":"Wed","p":2014,"t":2014.1,"v":82},{"m":"auto.arima","w":"Wed","p":2014,"t":2014.14,"v":63},{"m":"auto.arima","w":"Wed","p":2014,"t":2014.18,"v":47},{"m":"auto.arima","w":"Wed","p":2014,"t":2014.23,"v":33},{"m":"auto.arima","w":"Wed","p":2014,"t":2014.28,"v":22},{"m":"auto.arima","w":"Wed","p":2014,"t":2014.34,"v":13},{"m":"auto.arima","w":"Wed","p":2014,"t":2014.41,"v":7},{"m":"auto.arima","w":"Wed","p":2014,"t":2014.49,"v":2},
      {"m":"auto.arima","w":"Thurs","p":2014,"t":2014.0,"v":118},{"m":"auto.arima","w":"Thurs","p":2014,"t":2014.03,"v":82},{"m":"auto.arima","w":"Thurs","p":2014,"t":2014.06,"v":67},{"m":"auto.arima","w":"Thurs","p":2014,"t":2014.1,"v":51},{"m":"auto.arima","w":"Thurs","p":2014,"t":2014.14,"v":38},{"m":"auto.arima","w":"Thurs","p":2014,"t":2014.18,"v":28},{"m":"auto.arima","w":"Thurs","p":2014,"t":2014.23,"v":19},{"m":"auto.arima","w":"Thurs","p":2014,"t":2014.28,"v":12},{"m":"auto.arima","w":"Thurs","p":2014,"t":2014.34,"v":6},{"m":"auto.arima","w":"Thurs","p":2014,"t":2014.41,"v":2},{"m":"auto.arima","w":"Thurs","p":2014,"t":2014.49,"v":-1},
      {"m":"auto.arima","w":"Fri","p":2014,"t":2014.0,"v":122},{"m":"auto.arima","w":"Fri","p":2014,"t":2014.03,"v":95},{"m":"auto.arima","w":"Fri","p":2014,"t":2014.06,"v":78},{"m":"auto.arima","w":"Fri","p":2014,"t":2014.1,"v":59},{"m":"auto.arima","w":"Fri","p":2014,"t":2014.14,"v":45},{"m":"auto.arima","w":"Fri","p":2014,"t":2014.18,"v":33},{"m":"auto.arima","w":"Fri","p":2014,"t":2014.23,"v":23},{"m":"auto.arima","w":"Fri","p":2014,"t":2014.28,"v":15},{"m":"auto.arima","w":"Fri","p":2014,"t":2014.34,"v":8},{"m":"auto.arima","w":"Fri","p":2014,"t":2014.41,"v":3},{"m":"auto.arima","w":"Fri","p":2014,"t":2014.49,"v":0},
      {"m":"auto.arima","w":"Sat","p":2014,"t":2014.0,"v":168},{"m":"auto.arima","w":"Sat","p":2014,"t":2014.03,"v":138},{"m":"auto.arima","w":"Sat","p":2014,"t":2014.06,"v":113},{"m":"auto.arima","w":"Sat","p":2014,"t":2014.1,"v":87},{"m":"auto.arima","w":"Sat","p":2014,"t":2014.14,"v":66},{"m":"auto.arima","w":"Sat","p":2014,"t":2014.18,"v":50},{"m":"auto.arima","w":"Sat","p":2014,"t":2014.23,"v":35},{"m":"auto.arima","w":"Sat","p":2014,"t":2014.28,"v":24},{"m":"auto.arima","w":"Sat","p":2014,"t":2014.34,"v":14},{"m":"auto.arima","w":"Sat","p":2014,"t":2014.41,"v":7},{"m":"auto.arima","w":"Sat","p":2014,"t":2014.49,"v":2},

      {"m":"auto.arima","w":"Sun","p":2015,"t":2015.13,"v":138},{"m":"auto.arima","w":"Sun","p":2015,"t":2015.16,"v":132},{"m":"auto.arima","w":"Sun","p":2015,"t":2015.19,"v":128},{"m":"auto.arima","w":"Sun","p":2015,"t":2015.23,"v":122},{"m":"auto.arima","w":"Sun","p":2015,"t":2015.27,"v":118},{"m":"auto.arima","w":"Sun","p":2015,"t":2015.31,"v":115},{"m":"auto.arima","w":"Sun","p":2015,"t":2015.36,"v":112},{"m":"auto.arima","w":"Sun","p":2015,"t":2015.41,"v":110},{"m":"auto.arima","w":"Sun","p":2015,"t":2015.47,"v":108},{"m":"auto.arima","w":"Sun","p":2015,"t":2015.54,"v":106},{"m":"auto.arima","w":"Sun","p":2015,"t":2015.61,"v":105},
      {"m":"auto.arima","w":"Mon","p":2015,"t":2015.13,"v":184},{"m":"auto.arima","w":"Mon","p":2015,"t":2015.16,"v":171},{"m":"auto.arima","w":"Mon","p":2015,"t":2015.19,"v":160},{"m":"auto.arima","w":"Mon","p":2015,"t":2015.23,"v":148},{"m":"auto.arima","w":"Mon","p":2015,"t":2015.27,"v":138},{"m":"auto.arima","w":"Mon","p":2015,"t":2015.31,"v":131},{"m":"auto.arima","w":"Mon","p":2015,"t":2015.36,"v":124},{"m":"auto.arima","w":"Mon","p":2015,"t":2015.41,"v":119},{"m":"auto.arima","w":"Mon","p":2015,"t":2015.47,"v":114},{"m":"auto.arima","w":"Mon","p":2015,"t":2015.54,"v":110},{"m":"auto.arima","w":"Mon","p":2015,"t":2015.61,"v":108},
      {"m":"auto.arima","w":"Tues","p":2015,"t":2015.13,"v":282},{"m":"auto.arima","w":"Tues","p":2015,"t":2015.16,"v":253},{"m":"auto.arima","w":"Tues","p":2015,"t":2015.19,"v":229},{"m":"auto.arima","w":"Tues","p":2015,"t":2015.23,"v":202},{"m":"auto.arima","w":"Tues","p":2015,"t":2015.27,"v":181},{"m":"auto.arima","w":"Tues","p":2015,"t":2015.31,"v":165},{"m":"auto.arima","w":"Tues","p":2015,"t":2015.36,"v":149},{"m":"auto.arima","w":"Tues","p":2015,"t":2015.41,"v":137},{"m":"auto.arima","w":"Tues","p":2015,"t":2015.47,"v":127},{"m":"auto.arima","w":"Tues","p":2015,"t":2015.54,"v":119},{"m":"auto.arima","w":"Tues","p":2015,"t":2015.61,"v":114},
      {"m":"auto.arima","w":"Wed","p":2015,"t":2015.13,"v":262},{"m":"auto.arima","w":"Wed","p":2015,"t":2015.16,"v":236},{"m":"auto.arima","w":"Wed","p":2015,"t":2015.19,"v":215},{"m":"auto.arima","w":"Wed","p":2015,"t":2015.23,"v":191},{"m":"auto.arima","w":"Wed","p":2015,"t":2015.27,"v":173},{"m":"auto.arima","w":"Wed","p":2015,"t":2015.31,"v":158},{"m":"auto.arima","w":"Wed","p":2015,"t":2015.36,"v":144},{"m":"auto.arima","w":"Wed","p":2015,"t":2015.41,"v":134},{"m":"auto.arima","w":"Wed","p":2015,"t":2015.47,"v":125},{"m":"auto.arima","w":"Wed","p":2015,"t":2015.54,"v":117},{"m":"auto.arima","w":"Wed","p":2015,"t":2015.61,"v":112},
      {"m":"auto.arima","w":"Thurs","p":2015,"t":2015.13,"v":246},{"m":"auto.arima","w":"Thurs","p":2015,"t":2015.16,"v":223},{"m":"auto.arima","w":"Thurs","p":2015,"t":2015.19,"v":203},{"m":"auto.arima","w":"Thurs","p":2015,"t":2015.23,"v":182},{"m":"auto.arima","w":"Thurs","p":2015,"t":2015.27,"v":166},{"m":"auto.arima","w":"Thurs","p":2015,"t":2015.31,"v":152},{"m":"auto.arima","w":"Thurs","p":2015,"t":2015.36,"v":140},{"m":"auto.arima","w":"Thurs","p":2015,"t":2015.41,"v":130},{"m":"auto.arima","w":"Thurs","p":2015,"t":2015.47,"v":122},{"m":"auto.arima","w":"Thurs","p":2015,"t":2015.54,"v":116},{"m":"auto.arima","w":"Thurs","p":2015,"t":2015.61,"v":111},
      {"m":"auto.arima","w":"Fri","p":2015,"t":2015.13,"v":222},{"m":"auto.arima","w":"Fri","p":2015,"t":2015.16,"v":203},{"m":"auto.arima","w":"Fri","p":2015,"t":2015.19,"v":187},{"m":"auto.arima","w":"Fri","p":2015,"t":2015.23,"v":169},{"m":"auto.arima","w":"Fri","p":2015,"t":2015.27,"v":155},{"m":"auto.arima","w":"Fri","p":2015,"t":2015.31,"v":144},{"m":"auto.arima","w":"Fri","p":2015,"t":2015.36,"v":134},{"m":"auto.arima","w":"Fri","p":2015,"t":2015.41,"v":126},{"m":"auto.arima","w":"Fri","p":2015,"t":2015.47,"v":119},{"m":"auto.arima","w":"Fri","p":2015,"t":2015.54,"v":114},{"m":"auto.arima","w":"Fri","p":2015,"t":2015.61,"v":110},
      {"m":"auto.arima","w":"Sat","p":2015,"t":2015.13,"v":194},{"m":"auto.arima","w":"Sat","p":2015,"t":2015.16,"v":179},{"m":"auto.arima","w":"Sat","p":2015,"t":2015.19,"v":167},{"m":"auto.arima","w":"Sat","p":2015,"t":2015.23,"v":153},{"m":"auto.arima","w":"Sat","p":2015,"t":2015.27,"v":143},{"m":"auto.arima","w":"Sat","p":2015,"t":2015.31,"v":134},{"m":"auto.arima","w":"Sat","p":2015,"t":2015.36,"v":126},{"m":"auto.arima","w":"Sat","p":2015,"t":2015.41,"v":120},{"m":"auto.arima","w":"Sat","p":2015,"t":2015.47,"v":115},{"m":"auto.arima","w":"Sat","p":2015,"t":2015.54,"v":111},{"m":"auto.arima","w":"Sat","p":2015,"t":2015.61,"v":108},

      {"m":"auto.arima","w":"Sun","p":2016,"t":2016.25,"v":156},{"m":"auto.arima","w":"Sun","p":2016,"t":2016.28,"v":199},{"m":"auto.arima","w":"Sun","p":2016,"t":2016.31,"v":234},{"m":"auto.arima","w":"Sun","p":2016,"t":2016.35,"v":271},{"m":"auto.arima","w":"Sun","p":2016,"t":2016.39,"v":300},{"m":"auto.arima","w":"Sun","p":2016,"t":2016.43,"v":321},{"m":"auto.arima","w":"Sun","p":2016,"t":2016.48,"v":341},{"m":"auto.arima","w":"Sun","p":2016,"t":2016.53,"v":355},{"m":"auto.arima","w":"Sun","p":2016,"t":2016.59,"v":367},{"m":"auto.arima","w":"Sun","p":2016,"t":2016.66,"v":376},{"m":"auto.arima","w":"Sun","p":2016,"t":2016.73,"v":381},
      {"m":"auto.arima","w":"Mon","p":2016,"t":2016.25,"v":162},{"m":"auto.arima","w":"Mon","p":2016,"t":2016.28,"v":204},{"m":"auto.arima","w":"Mon","p":2016,"t":2016.31,"v":238},{"m":"auto.arima","w":"Mon","p":2016,"t":2016.35,"v":274},{"m":"auto.arima","w":"Mon","p":2016,"t":2016.39,"v":302},{"m":"auto.arima","w":"Mon","p":2016,"t":2016.43,"v":323},{"m":"auto.arima","w":"Mon","p":2016,"t":2016.48,"v":342},{"m":"auto.arima","w":"Mon","p":2016,"t":2016.53,"v":356},{"m":"auto.arima","w":"Mon","p":2016,"t":2016.59,"v":367},{"m":"auto.arima","w":"Mon","p":2016,"t":2016.66,"v":376},{"m":"auto.arima","w":"Mon","p":2016,"t":2016.73,"v":381},
      {"m":"auto.arima","w":"Tues","p":2016,"t":2016.25,"v":357},{"m":"auto.arima","w":"Tues","p":2016,"t":2016.28,"v":363},{"m":"auto.arima","w":"Tues","p":2016,"t":2016.31,"v":368},{"m":"auto.arima","w":"Tues","p":2016,"t":2016.35,"v":373},{"m":"auto.arima","w":"Tues","p":2016,"t":2016.39,"v":377},{"m":"auto.arima","w":"Tues","p":2016,"t":2016.43,"v":380},{"m":"auto.arima","w":"Tues","p":2016,"t":2016.48,"v":383},{"m":"auto.arima","w":"Tues","p":2016,"t":2016.53,"v":385},{"m":"auto.arima","w":"Tues","p":2016,"t":2016.59,"v":387},{"m":"auto.arima","w":"Tues","p":2016,"t":2016.66,"v":388},{"m":"auto.arima","w":"Tues","p":2016,"t":2016.73,"v":389},
      {"m":"auto.arima","w":"Wed","p":2016,"t":2016.25,"v":311},{"m":"auto.arima","w":"Wed","p":2016,"t":2016.28,"v":326},{"m":"auto.arima","w":"Wed","p":2016,"t":2016.31,"v":338},{"m":"auto.arima","w":"Wed","p":2016,"t":2016.35,"v":350},{"m":"auto.arima","w":"Wed","p":2016,"t":2016.39,"v":360},{"m":"auto.arima","w":"Wed","p":2016,"t":2016.43,"v":367},{"m":"auto.arima","w":"Wed","p":2016,"t":2016.48,"v":374},{"m":"auto.arima","w":"Wed","p":2016,"t":2016.53,"v":378},{"m":"auto.arima","w":"Wed","p":2016,"t":2016.59,"v":382},{"m":"auto.arima","w":"Wed","p":2016,"t":2016.66,"v":385},{"m":"auto.arima","w":"Wed","p":2016,"t":2016.73,"v":387},
      {"m":"auto.arima","w":"Thurs","p":2016,"t":2016.25,"v":330},{"m":"auto.arima","w":"Thurs","p":2016,"t":2016.28,"v":341},{"m":"auto.arima","w":"Thurs","p":2016,"t":2016.31,"v":350},{"m":"auto.arima","w":"Thurs","p":2016,"t":2016.35,"v":360},{"m":"auto.arima","w":"Thurs","p":2016,"t":2016.39,"v":367},{"m":"auto.arima","w":"Thurs","p":2016,"t":2016.43,"v":372},{"m":"auto.arima","w":"Thurs","p":2016,"t":2016.48,"v":378},{"m":"auto.arima","w":"Thurs","p":2016,"t":2016.53,"v":381},{"m":"auto.arima","w":"Thurs","p":2016,"t":2016.59,"v":384},{"m":"auto.arima","w":"Thurs","p":2016,"t":2016.66,"v":386},{"m":"auto.arima","w":"Thurs","p":2016,"t":2016.73,"v":388},
      {"m":"auto.arima","w":"Fri","p":2016,"t":2016.25,"v":345},{"m":"auto.arima","w":"Fri","p":2016,"t":2016.28,"v":353},{"m":"auto.arima","w":"Fri","p":2016,"t":2016.31,"v":360},{"m":"auto.arima","w":"Fri","p":2016,"t":2016.35,"v":367},{"m":"auto.arima","w":"Fri","p":2016,"t":2016.39,"v":373},{"m":"auto.arima","w":"Fri","p":2016,"t":2016.43,"v":377},{"m":"auto.arima","w":"Fri","p":2016,"t":2016.48,"v":381},{"m":"auto.arima","w":"Fri","p":2016,"t":2016.53,"v":383},{"m":"auto.arima","w":"Fri","p":2016,"t":2016.59,"v":386},{"m":"auto.arima","w":"Fri","p":2016,"t":2016.66,"v":387},{"m":"auto.arima","w":"Fri","p":2016,"t":2016.73,"v":388},
      {"m":"auto.arima","w":"Sat","p":2016,"t":2016.25,"v":220},{"m":"auto.arima","w":"Sat","p":2016,"t":2016.28,"v":251},{"m":"auto.arima","w":"Sat","p":2016,"t":2016.31,"v":277},{"m":"auto.arima","w":"Sat","p":2016,"t":2016.35,"v":304},{"m":"auto.arima","w":"Sat","p":2016,"t":2016.39,"v":324},{"m":"auto.arima","w":"Sat","p":2016,"t":2016.43,"v":340},{"m":"auto.arima","w":"Sat","p":2016,"t":2016.48,"v":354},{"m":"auto.arima","w":"Sat","p":2016,"t":2016.53,"v":365},{"m":"auto.arima","w":"Sat","p":2016,"t":2016.59,"v":373},{"m":"auto.arima","w":"Sat","p":2016,"t":2016.66,"v":379},{"m":"auto.arima","w":"Sat","p":2016,"t":2016.73,"v":384},

      {"m":"tbats","w":"Sun","p":2014,"t":2014.0,"v":134},{"m":"tbats","w":"Sun","p":2014,"t":2014.05,"v":135},{"m":"tbats","w":"Sun","p":2014,"t":2014.1,"v":136},{"m":"tbats","w":"Sun","p":2014,"t":2014.15,"v":137},{"m":"tbats","w":"Sun","p":2014,"t":2014.2,"v":137},{"m":"tbats","w":"Sun","p":2014,"t":2014.27,"v":138},{"m":"tbats","w":"Sun","p":2014,"t":2014.34,"v":138},{"m":"tbats","w":"Sun","p":2014,"t":2014.41,"v":139},{"m":"tbats","w":"Sun","p":2014,"t":2014.49,"v":139},
      {"m":"tbats","w":"Mon","p":2014,"t":2014.0,"v":126},{"m":"tbats","w":"Mon","p":2014,"t":2014.05,"v":129},{"m":"tbats","w":"Mon","p":2014,"t":2014.1,"v":132},{"m":"tbats","w":"Mon","p":2014,"t":2014.15,"v":134},{"m":"tbats","w":"Mon","p":2014,"t":2014.2,"v":136},{"m":"tbats","w":"Mon","p":2014,"t":2014.27,"v":137},{"m":"tbats","w":"Mon","p":2014,"t":2014.34,"v":139},{"m":"tbats","w":"Mon","p":2014,"t":2014.41,"v":139},{"m":"tbats","w":"Mon","p":2014,"t":2014.49,"v":140},
      {"m":"tbats","w":"Tues","p":2014,"t":2014.0,"v":204},{"m":"tbats","w":"Tues","p":2014,"t":2014.05,"v":191},{"m":"tbats","w":"Tues","p":2014,"t":2014.1,"v":182},{"m":"tbats","w":"Tues","p":2014,"t":2014.15,"v":174},{"m":"tbats","w":"Tues","p":2014,"t":2014.2,"v":168},{"m":"tbats","w":"Tues","p":2014,"t":2014.27,"v":162},{"m":"tbats","w":"Tues","p":2014,"t":2014.34,"v":158},{"m":"tbats","w":"Tues","p":2014,"t":2014.41,"v":154},{"m":"tbats","w":"Tues","p":2014,"t":2014.49,"v":152},
      {"m":"tbats","w":"Wed","p":2014,"t":2014.0,"v":113},{"m":"tbats","w":"Wed","p":2014,"t":2014.05,"v":119},{"m":"tbats","w":"Wed","p":2014,"t":2014.1,"v":123},{"m":"tbats","w":"Wed","p":2014,"t":2014.15,"v":127},{"m":"tbats","w":"Wed","p":2014,"t":2014.2,"v":130},{"m":"tbats","w":"Wed","p":2014,"t":2014.27,"v":132},{"m":"tbats","w":"Wed","p":2014,"t":2014.34,"v":134},{"m":"tbats","w":"Wed","p":2014,"t":2014.41,"v":136},{"m":"tbats","w":"Wed","p":2014,"t":2014.49,"v":137},
      {"m":"tbats","w":"Thurs","p":2014,"t":2014.0,"v":81},{"m":"tbats","w":"Thurs","p":2014,"t":2014.05,"v":94},{"m":"tbats","w":"Thurs","p":2014,"t":2014.1,"v":103},{"m":"tbats","w":"Thurs","p":2014,"t":2014.15,"v":111},{"m":"tbats","w":"Thurs","p":2014,"t":2014.2,"v":117},{"m":"tbats","w":"Thurs","p":2014,"t":2014.27,"v":123},{"m":"tbats","w":"Thurs","p":2014,"t":2014.34,"v":127},{"m":"tbats","w":"Thurs","p":2014,"t":2014.41,"v":131},{"m":"tbats","w":"Thurs","p":2014,"t":2014.49,"v":133},
      {"m":"tbats","w":"Fri","p":2014,"t":2014.0,"v":160},{"m":"tbats","w":"Fri","p":2014,"t":2014.05,"v":156},{"m":"tbats","w":"Fri","p":2014,"t":2014.1,"v":153},{"m":"tbats","w":"Fri","p":2014,"t":2014.15,"v":151},{"m":"tbats","w":"Fri","p":2014,"t":2014.2,"v":149},{"m":"tbats","w":"Fri","p":2014,"t":2014.27,"v":147},{"m":"tbats","w":"Fri","p":2014,"t":2014.34,"v":146},{"m":"tbats","w":"Fri","p":2014,"t":2014.41,"v":145},{"m":"tbats","w":"Fri","p":2014,"t":2014.49,"v":144},
      {"m":"tbats","w":"Sat","p":2014,"t":2014.0,"v":184},{"m":"tbats","w":"Sat","p":2014,"t":2014.05,"v":175},{"m":"tbats","w":"Sat","p":2014,"t":2014.1,"v":168},{"m":"tbats","w":"Sat","p":2014,"t":2014.15,"v":163},{"m":"tbats","w":"Sat","p":2014,"t":2014.2,"v":158},{"m":"tbats","w":"Sat","p":2014,"t":2014.27,"v":154},{"m":"tbats","w":"Sat","p":2014,"t":2014.34,"v":151},{"m":"tbats","w":"Sat","p":2014,"t":2014.41,"v":149},{"m":"tbats","w":"Sat","p":2014,"t":2014.49,"v":147},

      {"m":"tbats","w":"Sun","p":2015,"t":2015.131,"v":138},{"m":"tbats","w":"Sun","p":2015,"t":2015.16,"v":148},{"m":"tbats","w":"Sun","p":2015,"t":2015.189,"v":157},{"m":"tbats","w":"Sun","p":2015,"t":2015.218,"v":148},{"m":"tbats","w":"Sun","p":2015,"t":2015.242,"v":143},{"m":"tbats","w":"Sun","p":2015,"t":2015.276,"v":150},{"m":"tbats","w":"Sun","p":2015,"t":2015.31,"v":157},{"m":"tbats","w":"Sun","p":2015,"t":2015.334,"v":148},{"m":"tbats","w":"Sun","p":2015,"t":2015.358,"v":143},{"m":"tbats","w":"Sun","p":2015,"t":2015.383,"v":150},{"m":"tbats","w":"Sun","p":2015,"t":2015.412,"v":157},{"m":"tbats","w":"Sun","p":2015,"t":2015.446,"v":148},{"m":"tbats","w":"Sun","p":2015,"t":2015.475,"v":134},{"m":"tbats","w":"Sun","p":2015,"t":2015.504,"v":127},{"m":"tbats","w":"Sun","p":2015,"t":2015.538,"v":126},{"m":"tbats","w":"Sun","p":2015,"t":2015.567,"v":127},{"m":"tbats","w":"Sun","p":2015,"t":2015.6,"v":126},
      {"m":"tbats","w":"Mon","p":2015,"t":2015.131,"v":186},{"m":"tbats","w":"Mon","p":2015,"t":2015.16,"v":198},{"m":"tbats","w":"Mon","p":2015,"t":2015.189,"v":209},{"m":"tbats","w":"Mon","p":2015,"t":2015.218,"v":198},{"m":"tbats","w":"Mon","p":2015,"t":2015.242,"v":191},{"m":"tbats","w":"Mon","p":2015,"t":2015.276,"v":201},{"m":"tbats","w":"Mon","p":2015,"t":2015.31,"v":209},{"m":"tbats","w":"Mon","p":2015,"t":2015.334,"v":198},{"m":"tbats","w":"Mon","p":2015,"t":2015.358,"v":191},{"m":"tbats","w":"Mon","p":2015,"t":2015.383,"v":201},{"m":"tbats","w":"Mon","p":2015,"t":2015.412,"v":209},{"m":"tbats","w":"Mon","p":2015,"t":2015.446,"v":198},{"m":"tbats","w":"Mon","p":2015,"t":2015.475,"v":180},{"m":"tbats","w":"Mon","p":2015,"t":2015.504,"v":172},{"m":"tbats","w":"Mon","p":2015,"t":2015.538,"v":171},{"m":"tbats","w":"Mon","p":2015,"t":2015.567,"v":172},{"m":"tbats","w":"Mon","p":2015,"t":2015.6,"v":171},
      {"m":"tbats","w":"Tues","p":2015,"t":2015.131,"v":306},{"m":"tbats","w":"Tues","p":2015,"t":2015.16,"v":321},{"m":"tbats","w":"Tues","p":2015,"t":2015.189,"v":335},{"m":"tbats","w":"Tues","p":2015,"t":2015.218,"v":321},{"m":"tbats","w":"Tues","p":2015,"t":2015.242,"v":313},{"m":"tbats","w":"Tues","p":2015,"t":2015.276,"v":325},{"m":"tbats","w":"Tues","p":2015,"t":2015.31,"v":335},{"m":"tbats","w":"Tues","p":2015,"t":2015.334,"v":321},{"m":"tbats","w":"Tues","p":2015,"t":2015.358,"v":313},{"m":"tbats","w":"Tues","p":2015,"t":2015.383,"v":325},{"m":"tbats","w":"Tues","p":2015,"t":2015.412,"v":335},{"m":"tbats","w":"Tues","p":2015,"t":2015.446,"v":321},{"m":"tbats","w":"Tues","p":2015,"t":2015.475,"v":299},{"m":"tbats","w":"Tues","p":2015,"t":2015.504,"v":289},{"m":"tbats","w":"Tues","p":2015,"t":2015.538,"v":287},{"m":"tbats","w":"Tues","p":2015,"t":2015.567,"v":289},{"m":"tbats","w":"Tues","p":2015,"t":2015.6,"v":287},
      {"m":"tbats","w":"Wed","p":2015,"t":2015.131,"v":300},{"m":"tbats","w":"Wed","p":2015,"t":2015.16,"v":315},{"m":"tbats","w":"Wed","p":2015,"t":2015.189,"v":329},{"m":"tbats","w":"Wed","p":2015,"t":2015.218,"v":315},{"m":"tbats","w":"Wed","p":2015,"t":2015.242,"v":307},{"m":"tbats","w":"Wed","p":2015,"t":2015.276,"v":319},{"m":"tbats","w":"Wed","p":2015,"t":2015.31,"v":329},{"m":"tbats","w":"Wed","p":2015,"t":2015.334,"v":315},{"m":"tbats","w":"Wed","p":2015,"t":2015.358,"v":307},{"m":"tbats","w":"Wed","p":2015,"t":2015.383,"v":319},{"m":"tbats","w":"Wed","p":2015,"t":2015.412,"v":329},{"m":"tbats","w":"Wed","p":2015,"t":2015.446,"v":315},{"m":"tbats","w":"Wed","p":2015,"t":2015.475,"v":293},{"m":"tbats","w":"Wed","p":2015,"t":2015.504,"v":283},{"m":"tbats","w":"Wed","p":2015,"t":2015.538,"v":281},{"m":"tbats","w":"Wed","p":2015,"t":2015.567,"v":283},{"m":"tbats","w":"Wed","p":2015,"t":2015.6,"v":281},
      {"m":"tbats","w":"Thurs","p":2015,"t":2015.131,"v":288},{"m":"tbats","w":"Thurs","p":2015,"t":2015.16,"v":303},{"m":"tbats","w":"Thurs","p":2015,"t":2015.189,"v":317},{"m":"tbats","w":"Thurs","p":2015,"t":2015.218,"v":303},{"m":"tbats","w":"Thurs","p":2015,"t":2015.242,"v":295},{"m":"tbats","w":"Thurs","p":2015,"t":2015.276,"v":307},{"m":"tbats","w":"Thurs","p":2015,"t":2015.31,"v":317},{"m":"tbats","w":"Thurs","p":2015,"t":2015.334,"v":303},{"m":"tbats","w":"Thurs","p":2015,"t":2015.358,"v":295},{"m":"tbats","w":"Thurs","p":2015,"t":2015.383,"v":307},{"m":"tbats","w":"Thurs","p":2015,"t":2015.412,"v":317},{"m":"tbats","w":"Thurs","p":2015,"t":2015.446,"v":303},{"m":"tbats","w":"Thurs","p":2015,"t":2015.475,"v":281},{"m":"tbats","w":"Thurs","p":2015,"t":2015.504,"v":271},{"m":"tbats","w":"Thurs","p":2015,"t":2015.538,"v":269},{"m":"tbats","w":"Thurs","p":2015,"t":2015.567,"v":271},{"m":"tbats","w":"Thurs","p":2015,"t":2015.6,"v":269},
      {"m":"tbats","w":"Fri","p":2015,"t":2015.131,"v":256},{"m":"tbats","w":"Fri","p":2015,"t":2015.16,"v":271},{"m":"tbats","w":"Fri","p":2015,"t":2015.189,"v":285},{"m":"tbats","w":"Fri","p":2015,"t":2015.218,"v":271},{"m":"tbats","w":"Fri","p":2015,"t":2015.242,"v":263},{"m":"tbats","w":"Fri","p":2015,"t":2015.276,"v":275},{"m":"tbats","w":"Fri","p":2015,"t":2015.31,"v":285},{"m":"tbats","w":"Fri","p":2015,"t":2015.334,"v":271},{"m":"tbats","w":"Fri","p":2015,"t":2015.358,"v":263},{"m":"tbats","w":"Fri","p":2015,"t":2015.383,"v":275},{"m":"tbats","w":"Fri","p":2015,"t":2015.412,"v":285},{"m":"tbats","w":"Fri","p":2015,"t":2015.446,"v":271},{"m":"tbats","w":"Fri","p":2015,"t":2015.475,"v":249},{"m":"tbats","w":"Fri","p":2015,"t":2015.504,"v":239},{"m":"tbats","w":"Fri","p":2015,"t":2015.538,"v":237},{"m":"tbats","w":"Fri","p":2015,"t":2015.567,"v":239},{"m":"tbats","w":"Fri","p":2015,"t":2015.6,"v":237},
      {"m":"tbats","w":"Sat","p":2015,"t":2015.131,"v":208},{"m":"tbats","w":"Sat","p":2015,"t":2015.16,"v":220},{"m":"tbats","w":"Sat","p":2015,"t":2015.189,"v":231},{"m":"tbats","w":"Sat","p":2015,"t":2015.218,"v":220},{"m":"tbats","w":"Sat","p":2015,"t":2015.242,"v":213},{"m":"tbats","w":"Sat","p":2015,"t":2015.276,"v":223},{"m":"tbats","w":"Sat","p":2015,"t":2015.31,"v":231},{"m":"tbats","w":"Sat","p":2015,"t":2015.334,"v":220},{"m":"tbats","w":"Sat","p":2015,"t":2015.358,"v":213},{"m":"tbats","w":"Sat","p":2015,"t":2015.383,"v":223},{"m":"tbats","w":"Sat","p":2015,"t":2015.412,"v":231},{"m":"tbats","w":"Sat","p":2015,"t":2015.446,"v":220},{"m":"tbats","w":"Sat","p":2015,"t":2015.475,"v":202},{"m":"tbats","w":"Sat","p":2015,"t":2015.504,"v":194},{"m":"tbats","w":"Sat","p":2015,"t":2015.538,"v":193},{"m":"tbats","w":"Sat","p":2015,"t":2015.567,"v":194},{"m":"tbats","w":"Sat","p":2015,"t":2015.6,"v":193},

      {"m":"tbats","w":"Sun","p":2016,"t":2016.254,"v":147},{"m":"tbats","w":"Sun","p":2016,"t":2016.278,"v":151},{"m":"tbats","w":"Sun","p":2016,"t":2016.303,"v":152},{"m":"tbats","w":"Sun","p":2016,"t":2016.341,"v":151},{"m":"tbats","w":"Sun","p":2016,"t":2016.38,"v":150},{"m":"tbats","w":"Sun","p":2016,"t":2016.414,"v":144},{"m":"tbats","w":"Sun","p":2016,"t":2016.448,"v":134},{"m":"tbats","w":"Sun","p":2016,"t":2016.482,"v":123},{"m":"tbats","w":"Sun","p":2016,"t":2016.516,"v":119},{"m":"tbats","w":"Sun","p":2016,"t":2016.55,"v":121},{"m":"tbats","w":"Sun","p":2016,"t":2016.584,"v":121},{"m":"tbats","w":"Sun","p":2016,"t":2016.617,"v":123},{"m":"tbats","w":"Sun","p":2016,"t":2016.646,"v":134},{"m":"tbats","w":"Sun","p":2016,"t":2016.676,"v":145},{"m":"tbats","w":"Sun","p":2016,"t":2016.705,"v":152},{"m":"tbats","w":"Sun","p":2016,"t":2016.729,"v":148},
      {"m":"tbats","w":"Mon","p":2016,"t":2016.254,"v":192},{"m":"tbats","w":"Mon","p":2016,"t":2016.278,"v":197},{"m":"tbats","w":"Mon","p":2016,"t":2016.303,"v":198},{"m":"tbats","w":"Mon","p":2016,"t":2016.341,"v":197},{"m":"tbats","w":"Mon","p":2016,"t":2016.38,"v":196},{"m":"tbats","w":"Mon","p":2016,"t":2016.414,"v":189},{"m":"tbats","w":"Mon","p":2016,"t":2016.448,"v":177},{"m":"tbats","w":"Mon","p":2016,"t":2016.482,"v":165},{"m":"tbats","w":"Mon","p":2016,"t":2016.516,"v":160},{"m":"tbats","w":"Mon","p":2016,"t":2016.55,"v":162},{"m":"tbats","w":"Mon","p":2016,"t":2016.584,"v":162},{"m":"tbats","w":"Mon","p":2016,"t":2016.617,"v":165},{"m":"tbats","w":"Mon","p":2016,"t":2016.646,"v":177},{"m":"tbats","w":"Mon","p":2016,"t":2016.676,"v":190},{"m":"tbats","w":"Mon","p":2016,"t":2016.705,"v":198},{"m":"tbats","w":"Mon","p":2016,"t":2016.729,"v":193},
      {"m":"tbats","w":"Tues","p":2016,"t":2016.254,"v":318},{"m":"tbats","w":"Tues","p":2016,"t":2016.278,"v":325},{"m":"tbats","w":"Tues","p":2016,"t":2016.303,"v":327},{"m":"tbats","w":"Tues","p":2016,"t":2016.341,"v":325},{"m":"tbats","w":"Tues","p":2016,"t":2016.38,"v":323},{"m":"tbats","w":"Tues","p":2016,"t":2016.414,"v":313},{"m":"tbats","w":"Tues","p":2016,"t":2016.448,"v":296},{"m":"tbats","w":"Tues","p":2016,"t":2016.482,"v":279},{"m":"tbats","w":"Tues","p":2016,"t":2016.516,"v":272},{"m":"tbats","w":"Tues","p":2016,"t":2016.55,"v":275},{"m":"tbats","w":"Tues","p":2016,"t":2016.584,"v":275},{"m":"tbats","w":"Tues","p":2016,"t":2016.617,"v":279},{"m":"tbats","w":"Tues","p":2016,"t":2016.646,"v":296},{"m":"tbats","w":"Tues","p":2016,"t":2016.676,"v":315},{"m":"tbats","w":"Tues","p":2016,"t":2016.705,"v":327},{"m":"tbats","w":"Tues","p":2016,"t":2016.729,"v":320},
      {"m":"tbats","w":"Wed","p":2016,"t":2016.254,"v":310},{"m":"tbats","w":"Wed","p":2016,"t":2016.278,"v":317},{"m":"tbats","w":"Wed","p":2016,"t":2016.303,"v":319},{"m":"tbats","w":"Wed","p":2016,"t":2016.341,"v":317},{"m":"tbats","w":"Wed","p":2016,"t":2016.38,"v":315},{"m":"tbats","w":"Wed","p":2016,"t":2016.414,"v":305},{"m":"tbats","w":"Wed","p":2016,"t":2016.448,"v":288},{"m":"tbats","w":"Wed","p":2016,"t":2016.482,"v":271},{"m":"tbats","w":"Wed","p":2016,"t":2016.516,"v":264},{"m":"tbats","w":"Wed","p":2016,"t":2016.55,"v":267},{"m":"tbats","w":"Wed","p":2016,"t":2016.584,"v":267},{"m":"tbats","w":"Wed","p":2016,"t":2016.617,"v":271},{"m":"tbats","w":"Wed","p":2016,"t":2016.646,"v":288},{"m":"tbats","w":"Wed","p":2016,"t":2016.676,"v":307},{"m":"tbats","w":"Wed","p":2016,"t":2016.705,"v":319},{"m":"tbats","w":"Wed","p":2016,"t":2016.729,"v":312},
      {"m":"tbats","w":"Thurs","p":2016,"t":2016.254,"v":298},{"m":"tbats","w":"Thurs","p":2016,"t":2016.278,"v":305},{"m":"tbats","w":"Thurs","p":2016,"t":2016.303,"v":307},{"m":"tbats","w":"Thurs","p":2016,"t":2016.341,"v":305},{"m":"tbats","w":"Thurs","p":2016,"t":2016.38,"v":303},{"m":"tbats","w":"Thurs","p":2016,"t":2016.414,"v":293},{"m":"tbats","w":"Thurs","p":2016,"t":2016.448,"v":276},{"m":"tbats","w":"Thurs","p":2016,"t":2016.482,"v":259},{"m":"tbats","w":"Thurs","p":2016,"t":2016.516,"v":252},{"m":"tbats","w":"Thurs","p":2016,"t":2016.55,"v":255},{"m":"tbats","w":"Thurs","p":2016,"t":2016.584,"v":255},{"m":"tbats","w":"Thurs","p":2016,"t":2016.617,"v":259},{"m":"tbats","w":"Thurs","p":2016,"t":2016.646,"v":276},{"m":"tbats","w":"Thurs","p":2016,"t":2016.676,"v":295},{"m":"tbats","w":"Thurs","p":2016,"t":2016.705,"v":307},{"m":"tbats","w":"Thurs","p":2016,"t":2016.729,"v":300},
      {"m":"tbats","w":"Fri","p":2016,"t":2016.254,"v":262},{"m":"tbats","w":"Fri","p":2016,"t":2016.278,"v":268},{"m":"tbats","w":"Fri","p":2016,"t":2016.303,"v":270},{"m":"tbats","w":"Fri","p":2016,"t":2016.341,"v":268},{"m":"tbats","w":"Fri","p":2016,"t":2016.38,"v":266},{"m":"tbats","w":"Fri","p":2016,"t":2016.414,"v":258},{"m":"tbats","w":"Fri","p":2016,"t":2016.448,"v":243},{"m":"tbats","w":"Fri","p":2016,"t":2016.482,"v":229},{"m":"tbats","w":"Fri","p":2016,"t":2016.516,"v":223},{"m":"tbats","w":"Fri","p":2016,"t":2016.55,"v":225},{"m":"tbats","w":"Fri","p":2016,"t":2016.584,"v":225},{"m":"tbats","w":"Fri","p":2016,"t":2016.617,"v":229},{"m":"tbats","w":"Fri","p":2016,"t":2016.646,"v":243},{"m":"tbats","w":"Fri","p":2016,"t":2016.676,"v":259},{"m":"tbats","w":"Fri","p":2016,"t":2016.705,"v":270},{"m":"tbats","w":"Fri","p":2016,"t":2016.729,"v":264},
      {"m":"tbats","w":"Sat","p":2016,"t":2016.254,"v":212},{"m":"tbats","w":"Sat","p":2016,"t":2016.278,"v":217},{"m":"tbats","w":"Sat","p":2016,"t":2016.303,"v":219},{"m":"tbats","w":"Sat","p":2016,"t":2016.341,"v":217},{"m":"tbats","w":"Sat","p":2016,"t":2016.38,"v":215},{"m":"tbats","w":"Sat","p":2016,"t":2016.414,"v":208},{"m":"tbats","w":"Sat","p":2016,"t":2016.448,"v":195},{"m":"tbats","w":"Sat","p":2016,"t":2016.482,"v":182},{"m":"tbats","w":"Sat","p":2016,"t":2016.516,"v":177},{"m":"tbats","w":"Sat","p":2016,"t":2016.55,"v":179},{"m":"tbats","w":"Sat","p":2016,"t":2016.584,"v":179},{"m":"tbats","w":"Sat","p":2016,"t":2016.617,"v":182},{"m":"tbats","w":"Sat","p":2016,"t":2016.646,"v":195},{"m":"tbats","w":"Sat","p":2016,"t":2016.676,"v":209},{"m":"tbats","w":"Sat","p":2016,"t":2016.705,"v":219},{"m":"tbats","w":"Sat","p":2016,"t":2016.729,"v":213}
    ]
  },
  "concat": [
    {
      "width": 847,
      "height": 204,
      "view": {"stroke": "#333333", "strokeWidth": 2},
      "encoding": {
        "x": {
          "field": "t", "type": "quantitative",
          "scale": {"domain": [2012.816, 2016.921], "nice": false, "zero": false},
          "axis": {
            "values": [2013, 2013.5, 2014, 2014.5, 2015, 2015.5, 2016, 2016.5],
            "labels": false, "ticks": false, "domain": false, "title": null,
            "grid": true,
            "gridColor": {"condition": {"test": "datum.value % 1 === 0", "value": "#e2e2e2"}, "value": "#efefef"},
            "gridWidth": {"condition": {"test": "datum.value % 1 === 0", "value": 2}, "value": 1}
          }
        },
        "y": {
          "field": "v", "type": "quantitative",
          "scale": {"domain": [-27, 460], "nice": false, "zero": false},
          "axis": {
            "values": [0, 50, 100, 150, 200, 250, 300, 350, 400, 450],
            "labels": false, "ticks": false, "domain": false, "title": null,
            "grid": true,
            "gridColor": {"condition": {"test": "datum.value % 100 === 0", "value": "#e2e2e2"}, "value": "#efefef"},
            "gridWidth": {"condition": {"test": "datum.value % 100 === 0", "value": 2}, "value": 1}
          }
        }
      },
      "layer": [
        {
          "data": {"name": "obs"},
          "mark": {"type": "circle", "size": 8, "color": "#333333", "opacity": 0.5}
        },
        {
          "data": {"name": "fc"},
          "transform": [{"filter": "datum.m === 'auto.arima'"}],
          "mark": {"type": "line", "strokeWidth": 3.2, "interpolate": "monotone", "strokeCap": "round"},
          "encoding": {
            "detail": {"field": "p", "type": "nominal"},
            "color": {
              "field": "w", "type": "nominal",
              "scale": {"domain": ["Sun", "Mon", "Tues", "Wed", "Thurs", "Fri", "Sat"], "range": ["#440154", "#443A83", "#31688E", "#21908C", "#35B779", "#8FD744", "#FDE725"]},
              "legend": {"title": "Weekday", "orient": "none", "legendX": 922, "legendY": 75, "padding": 0, "symbolType": "stroke", "symbolSize": 900, "symbolStrokeWidth": 3, "labelFontSize": 16, "labelColor": "#333333", "labelOffset": 9, "titleFontSize": 16, "titleFontWeight": "normal", "titleColor": "#1a1a1a", "titlePadding": 8, "rowPadding": 12}
            }
          }
        }
      ]
    },
    {
      "width": 38,
      "height": 204,
      "view": {"fill": "#d9d9d9", "stroke": "#4d4d4d", "strokeWidth": 1.5},
      "data": {"values": [{"model": "auto.arima"}]},
      "mark": {"type": "text", "angle": 90, "fontSize": 19, "color": "#1a1a1a", "align": "center", "baseline": "middle"},
      "encoding": {"text": {"field": "model", "type": "nominal"}}
    },
    {
      "width": 847,
      "height": 204,
      "view": {"stroke": "#333333", "strokeWidth": 2},
      "encoding": {
        "x": {
          "field": "t", "type": "quantitative",
          "scale": {"domain": [2012.816, 2016.921], "nice": false, "zero": false},
          "axis": {
            "values": [2013, 2013.5, 2014, 2014.5, 2015, 2015.5, 2016, 2016.5],
            "labelExpr": "datum.value % 1 === 0 ? format(datum.value, 'd') : ''",
            "labelFontSize": 18, "labelColor": "#4d4d4d", "labelPadding": 8, "labelFlush": false, "labelOverlap": false,
            "ticks": false, "domain": false,
            "title": "Date", "titleFontSize": 21, "titleFontWeight": "normal", "titleColor": "#1a1a1a", "titlePadding": 7,
            "grid": true,
            "gridColor": {"condition": {"test": "datum.value % 1 === 0", "value": "#e2e2e2"}, "value": "#efefef"},
            "gridWidth": {"condition": {"test": "datum.value % 1 === 0", "value": 2}, "value": 1}
          }
        },
        "y": {
          "field": "v", "type": "quantitative",
          "scale": {"domain": [-27, 460], "nice": false, "zero": false},
          "axis": {
            "values": [0, 50, 100, 150, 200, 250, 300, 350, 400, 450],
            "labels": false, "ticks": false, "domain": false, "title": null,
            "grid": true,
            "gridColor": {"condition": {"test": "datum.value % 100 === 0", "value": "#e2e2e2"}, "value": "#efefef"},
            "gridWidth": {"condition": {"test": "datum.value % 100 === 0", "value": 2}, "value": 1}
          }
        }
      },
      "layer": [
        {
          "data": {"name": "obs"},
          "mark": {"type": "circle", "size": 8, "color": "#333333", "opacity": 0.5}
        },
        {
          "data": {"name": "fc"},
          "transform": [{"filter": "datum.m === 'tbats'"}],
          "mark": {"type": "line", "strokeWidth": 3.2, "interpolate": "monotone", "strokeCap": "round"},
          "encoding": {
            "detail": {"field": "p", "type": "nominal"},
            "color": {
              "field": "w", "type": "nominal",
              "scale": {"domain": ["Sun", "Mon", "Tues", "Wed", "Thurs", "Fri", "Sat"], "range": ["#440154", "#443A83", "#31688E", "#21908C", "#35B779", "#8FD744", "#FDE725"]},
              "legend": {"title": "Weekday", "orient": "none", "legendX": 922, "legendY": 75, "padding": 0, "symbolType": "stroke", "symbolSize": 900, "symbolStrokeWidth": 3, "labelFontSize": 16, "labelColor": "#333333", "labelOffset": 9, "titleFontSize": 16, "titleFontWeight": "normal", "titleColor": "#1a1a1a", "titlePadding": 8, "rowPadding": 12}
            }
          }
        }
      ]
    },
    {
      "width": 38,
      "height": 204,
      "view": {"fill": "#d9d9d9", "stroke": "#4d4d4d", "strokeWidth": 1.5},
      "data": {"values": [{"model": "tbats"}]},
      "mark": {"type": "text", "angle": 90, "fontSize": 19, "color": "#1a1a1a", "align": "center", "baseline": "middle"},
      "encoding": {"text": {"field": "model", "type": "nominal"}}
    }
  ]
}
